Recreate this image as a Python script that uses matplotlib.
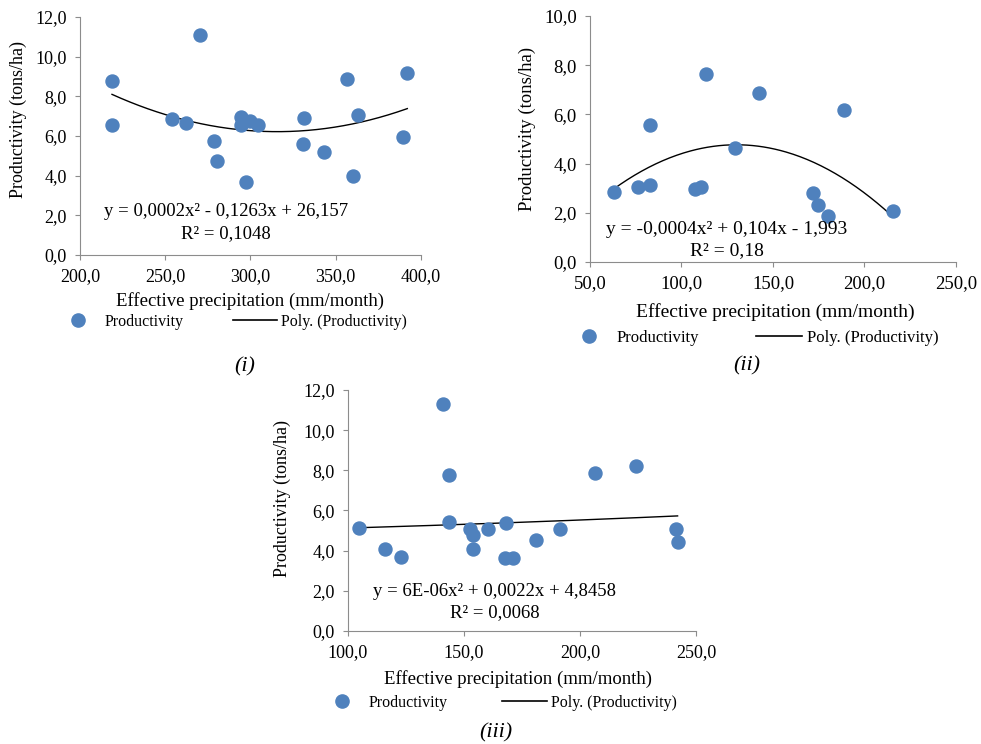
import numpy as np
import matplotlib
matplotlib.use("Agg")
import matplotlib.pyplot as plt
from matplotlib.lines import Line2D
from matplotlib.ticker import FuncFormatter

plt.rcParams['font.family'] = ['Liberation Serif', 'DejaVu Serif']

# (i) effective precipitation vs productivity
x1 = [218.8, 218.8, 270.4, 253.8, 262.0, 278.4, 280.5, 294.4, 294.4, 299.7,
      304.4, 297.2, 331.4, 330.8, 343.1, 356.4, 363.0, 360.3, 389.2, 392.0]
y1 = [8.76, 6.55, 11.11, 6.86, 6.65, 5.74, 4.72, 6.97, 6.53, 6.76,
      6.56, 3.66, 6.93, 5.61, 5.19, 8.85, 7.05, 3.99, 5.94, 9.15]
coef1 = [0.0002, -0.1263, 26.157]
eq1 = "y = 0,0002x² - 0,1263x + 26,157"
r2_1 = "R² = 0,1048"

# (ii)
x2 = [62.9, 76.4, 82.8, 82.8, 107.2, 110.5, 113.4, 129.1, 142.4, 171.6,
      174.5, 180.2, 188.6, 215.4]
y2 = [2.84, 3.04, 3.14, 5.58, 2.96, 3.07, 7.65, 4.65, 6.86, 2.80,
      2.33, 1.89, 6.17, 2.07]
coef2 = [-0.0004, 0.104, -1.993]
eq2 = "y = -0,0004x² + 0,104x - 1,993"
r2_2 = "R² = 0,18"

# (iii)
x3 = [104.9, 116.1, 122.7, 140.8, 143.6, 143.7, 152.5, 154.0, 154.0, 160.5,
      168.3, 167.7, 171.2, 181.1, 191.3, 206.7, 224.3, 241.4, 242.1]
y3 = [5.14, 4.10, 3.69, 11.32, 7.76, 5.42, 5.07, 4.79, 4.07, 5.07,
      5.40, 3.64, 3.64, 4.55, 5.07, 7.88, 8.21, 5.09, 4.45]
coef3 = [6e-06, 0.0022, 4.8458]
eq3 = "y = 6E-06x² + 0,0022x + 4,8458"
r2_3 = "R² = 0,0068"

BLUE = '#4F81BD'
GREY = '#8C8C8C'
comma = FuncFormatter(lambda v, p: f"{v:.1f}".replace('.', ','))

fig = plt.figure(figsize=(9.81, 7.44), dpi=100)


def panel(rect, x, y, coef, eq, r2, xlim, xstep, ylim, caption, cap_xy,
          eq_x, eq_y, r2_y, xlab_pos, ylab_pos, leg_pos, colspace, fs=13):
    ax = fig.add_axes(rect)
    ax.scatter(x, y, s=88, color=BLUE, zorder=3, label='Productivity')
    xs = np.linspace(min(x), max(x), 200)
    ax.plot(xs, np.polyval(coef, xs), color='black', lw=1.0, zorder=2)
    ax.set_xlim(*xlim)
    ax.set_ylim(*ylim)
    ax.set_xticks(np.arange(xlim[0], xlim[1] + 0.1, xstep))
    ax.set_yticks(np.arange(ylim[0], ylim[1] + 0.1, 2))
    ax.xaxis.set_major_formatter(comma)
    ax.yaxis.set_major_formatter(comma)
    for s in ('top', 'right'):
        ax.spines[s].set_visible(False)
    for s in ('left', 'bottom'):
        ax.spines[s].set_color(GREY)
    ax.tick_params(direction='out', length=3.5, color=GREY, labelsize=fs,
                   pad=6)
    ax.set_xlabel('Effective precipitation (mm/month)', fontsize=fs + 0.5)
    ax.set_ylabel('Productivity (tons/ha)', fontsize=fs)
    ax.xaxis.set_label_coords(*xlab_pos)
    ax.xaxis.label.set_va('center')
    ax.yaxis.set_label_coords(*ylab_pos)
    ax.yaxis.label.set_va('center')
    ax.text(eq_x, eq_y, eq, transform=ax.transAxes, ha='center', va='center',
            fontsize=fs + 0.5)
    ax.text(eq_x, r2_y, r2, transform=ax.transAxes, ha='center', va='center',
            fontsize=fs + 0.5)
    handles = [Line2D([], [], marker='o', ls='none', color=BLUE, markersize=9.5),
               Line2D([], [], color='black', lw=1.2)]
    ax.legend(handles, ['Productivity', 'Poly. (Productivity)'], ncol=2,
              loc='center left', bbox_to_anchor=leg_pos, frameon=False,
              fontsize=fs - 1.5, borderpad=0, borderaxespad=0,
              handlelength=2.8, handletextpad=0.25, columnspacing=colspace)
    fig.text(cap_xy[0], cap_xy[1], caption, ha='center', va='center',
             fontsize=16, style='italic')
    return ax


panel([0.0815, 0.6573, 0.3476, 0.3199], x1, y1, coef1, eq1, r2_1,
      (200, 400), 50, (0, 12), '(i)', (245 / 981, 1 - 367 / 744),
      0.428, 0.181, 0.088, (0.5, -0.193), (-0.182, 0.571),
      (-0.072, -0.282), 3.1)

panel([0.6014, 0.6478, 0.3731, 0.3306], x2, y2, coef2, eq2, r2_2,
      (50, 250), 50, (0, 10), '(ii)', (747 / 981, 1 - 366 / 744),
      0.374, 0.134, 0.046, (0.507, -0.202), (-0.171, 0.543),
      (-0.066, -0.309), 3.4, fs=13.5)

panel([0.3547, 0.1519, 0.3547, 0.3239], x3, y3, coef3, eq3, r2_3,
      (100, 250), 50, (0, 12), '(iii)', (496 / 981, 1 - 733 / 744),
      0.422, 0.163, 0.076, (0.488, -0.199), (-0.19, 0.551),
      (-0.08, -0.2975), 3.4)

fig.savefig('out.png', dpi=100)
